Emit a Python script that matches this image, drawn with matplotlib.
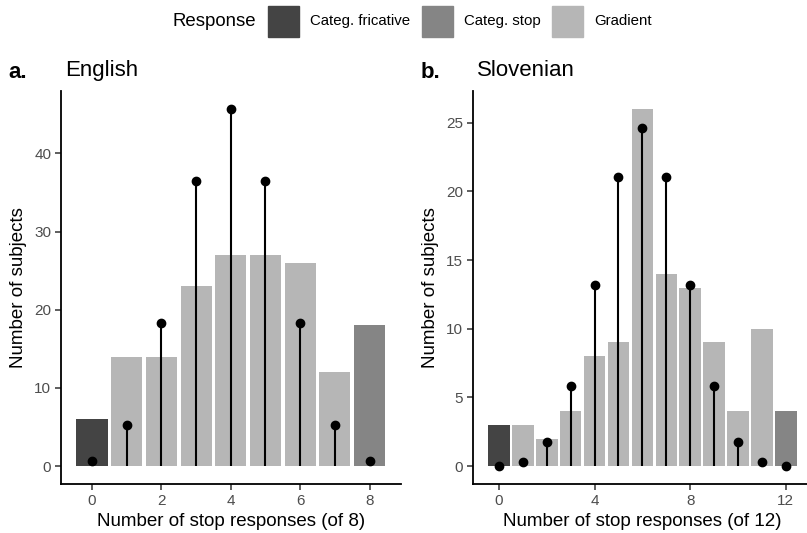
import numpy as np
import matplotlib
matplotlib.use('Agg')
import matplotlib.pyplot as plt
from matplotlib.patches import Rectangle

plt.rcParams['font.family'] = ['Liberation Sans', 'DejaVu Sans']

# Observed counts of subjects per number of stop responses
eng_x = list(range(9))
eng_counts = [6, 14, 14, 23, 27, 27, 26, 12, 18]
eng_expected = [0.65, 5.2, 18.3, 36.5, 45.7, 36.5, 18.3, 5.2, 0.65]
eng_resp = ['fric', 'grad', 'grad', 'grad', 'grad', 'grad', 'grad', 'grad', 'stop']

slo_x = list(range(13))
slo_counts = [3, 3, 2, 4, 8, 9, 26, 14, 13, 9, 4, 10, 4]
slo_expected = [0.03, 0.32, 1.76, 5.85, 13.17, 21.07, 24.58, 21.07, 13.17,
                5.85, 1.76, 0.32, 0.03]
slo_resp = ['fric'] + ['grad'] * 11 + ['stop']

colors = {'fric': '#444444', 'stop': '#858585', 'grad': '#b6b6b6'}
legend_labels = [('fric', 'Categ. fricative'), ('stop', 'Categ. stop'),
                 ('grad', 'Gradient')]

W, H = 807, 533
fig = plt.figure(figsize=(W / 100, H / 100), dpi=100)


def px_axes(left, top, right, bottom):
    return fig.add_axes([left / W, 1 - bottom / H, (right - left) / W,
                         (bottom - top) / H])


def panel(ax, x, counts, expected, resp, xticks, yticks, xlabel):
    ax.bar(x, counts, width=0.9, color=[colors[r] for r in resp], zorder=1)
    ax.vlines(x, 0, expected, color='black', lw=1.5, zorder=2)
    ax.plot(x, expected, 'o', color='black', ms=6, zorder=3, clip_on=False)
    lo, hi = -0.45, len(x) - 1 + 0.45
    pad = (hi - lo) * 0.05
    ax.set_xlim(lo - pad, hi + pad)
    top = max(max(counts), max(expected))
    ax.set_ylim(-top * 0.05, top * 1.05)
    ax.set_xticks(xticks)
    ax.set_yticks(yticks)
    for s in ['top', 'right']:
        ax.spines[s].set_visible(False)
    for s in ['left', 'bottom']:
        ax.spines[s].set_linewidth(1.3)
    ax.tick_params(length=4, width=1.1, color='#333333', labelcolor='#4d4d4d',
                   labelsize=11, pad=3)
    ax.set_xlabel(xlabel, fontsize=13.5, labelpad=4)
    ax.set_ylabel('Number of subjects', fontsize=13.5, labelpad=5)


ax1 = px_axes(61, 91, 400.6, 484)
panel(ax1, eng_x, eng_counts, eng_expected, eng_resp, [0, 2, 4, 6, 8],
      [0, 10, 20, 30, 40], 'Number of stop responses (of 8)')

ax2 = px_axes(472.8, 91, 812, 484)
panel(ax2, slo_x, slo_counts, slo_expected, slo_resp, [0, 4, 8, 12],
      [0, 5, 10, 15, 20, 25], 'Number of stop responses (of 12)')

fig.text(8 / W, 1 - 78 / H, 'a.', fontsize=16, fontweight='bold')
fig.text(65.5 / W, 1 - 76 / H, 'English', fontsize=16)
fig.text(421 / W, 1 - 78 / H, 'b.', fontsize=16, fontweight='bold')
fig.text(477 / W, 1 - 76 / H, 'Slovenian', fontsize=16)

# legend
fig.text(172 / W, 1 - 21 / H, 'Response', fontsize=13.4, va='center')
key_x = [268, 422, 552]
for (key, label), kx in zip(legend_labels, key_x):
    fig.add_artist(Rectangle((kx / W, 1 - 37 / H), 31 / W, 31 / H,
                             transform=fig.transFigure, color=colors[key]))
    fig.text((kx + 42) / W, 1 - 21 / H, label, fontsize=10.8, va='center')

fig.savefig('out.png', dpi=100)
